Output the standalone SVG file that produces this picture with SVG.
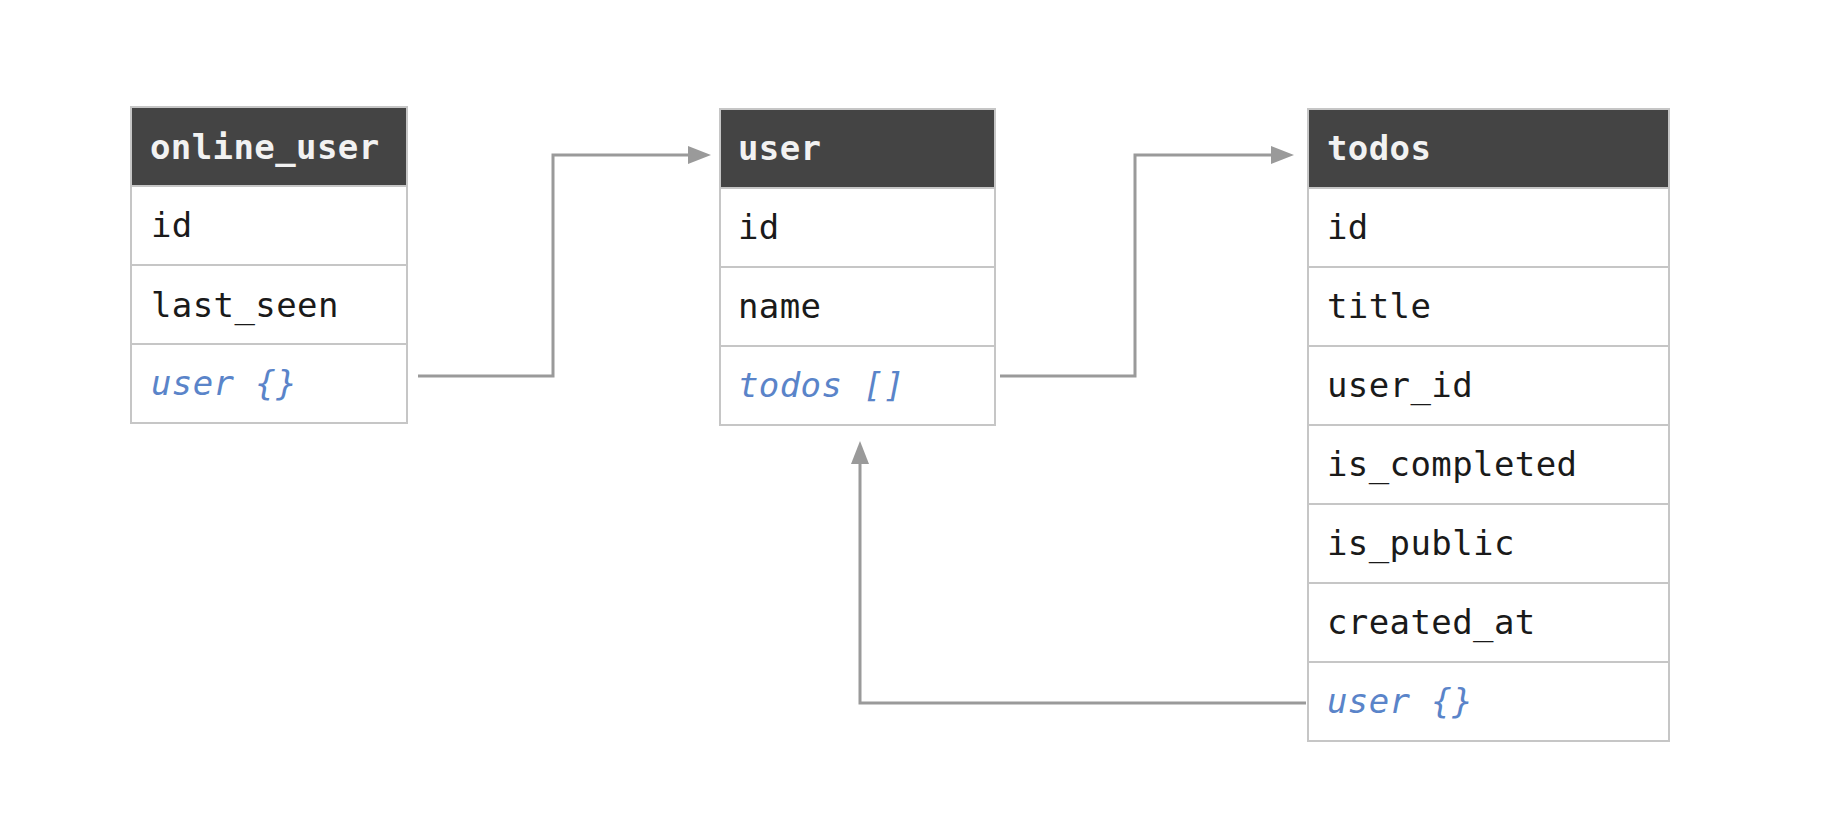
<svg xmlns="http://www.w3.org/2000/svg" width="1840" height="834" viewBox="0 0 1840 834">
<style>
.box{fill:#ffffff;stroke:#c6c6c6;stroke-width:2}
.hdr{fill:#444444;stroke:#c6c6c6;stroke-width:2}
.sep{stroke:#c6c6c6;stroke-width:2}
.ht{font-family:"DejaVu Sans Mono","Liberation Mono",monospace;font-size:34px;letter-spacing:0.4px;font-weight:bold;fill:#f2f2f2}
.ft{font-family:"DejaVu Sans Mono","Liberation Mono",monospace;font-size:34px;letter-spacing:0.4px;fill:#1a1a1a}
.rt{font-family:"DejaVu Sans Mono","Liberation Mono",monospace;font-size:34px;letter-spacing:0.4px;font-style:italic;fill:#5a84c9}
.conn{fill:none;stroke:#9a9a9a;stroke-width:3}
</style>
<defs>
<marker id="arr" markerUnits="userSpaceOnUse" markerWidth="24" markerHeight="18" refX="0" refY="9" orient="auto">
<path d="M0,0 L23,9 L0,18 Z" fill="#9a9a9a"/>
</marker>
</defs>
<rect width="1840" height="834" fill="#ffffff"/>
<g id="connectors">
<path class="conn" d="M418,376 H553 V155 H688" marker-end="url(#arr)"/>
<path class="conn" d="M1000,376 H1135 V155 H1271" marker-end="url(#arr)"/>
<path class="conn" d="M1306,703 H860 V464" marker-end="url(#arr)"/>
</g>
<g id="online_user">
<rect class="box" x="131" y="107" width="276" height="316"/>
<rect class="hdr" x="131" y="107" width="276" height="79"/>
<line class="sep" x1="131" y1="265" x2="407" y2="265"/>
<line class="sep" x1="131" y1="344" x2="407" y2="344"/>
<text class="ht" x="150" y="159">online_user</text>
<text class="ft" x="151" y="237">id</text>
<text class="ft" x="151" y="317">last_seen</text>
<text class="rt" x="151" y="395">user {}</text>
</g>
<g id="user">
<rect class="box" x="720" y="109" width="275" height="316"/>
<rect class="hdr" x="720" y="109" width="275" height="79"/>
<line class="sep" x1="720" y1="267" x2="995" y2="267"/>
<line class="sep" x1="720" y1="346" x2="995" y2="346"/>
<text class="ht" x="738" y="160">user</text>
<text class="ft" x="738" y="239">id</text>
<text class="ft" x="738" y="318">name</text>
<text class="rt" x="738" y="397">todos []</text>
</g>
<g id="todos">
<rect class="box" x="1308" y="109" width="361" height="632"/>
<rect class="hdr" x="1308" y="109" width="361" height="79"/>
<line class="sep" x1="1308" y1="267" x2="1669" y2="267"/>
<line class="sep" x1="1308" y1="346" x2="1669" y2="346"/>
<line class="sep" x1="1308" y1="425" x2="1669" y2="425"/>
<line class="sep" x1="1308" y1="504" x2="1669" y2="504"/>
<line class="sep" x1="1308" y1="583" x2="1669" y2="583"/>
<line class="sep" x1="1308" y1="662" x2="1669" y2="662"/>
<text class="ht" x="1327" y="160">todos</text>
<text class="ft" x="1327" y="239">id</text>
<text class="ft" x="1327" y="318">title</text>
<text class="ft" x="1327" y="397">user_id</text>
<text class="ft" x="1327" y="476">is_completed</text>
<text class="ft" x="1327" y="555">is_public</text>
<text class="ft" x="1327" y="634">created_at</text>
<text class="rt" x="1327" y="713">user {}</text>
</g>
</svg>
